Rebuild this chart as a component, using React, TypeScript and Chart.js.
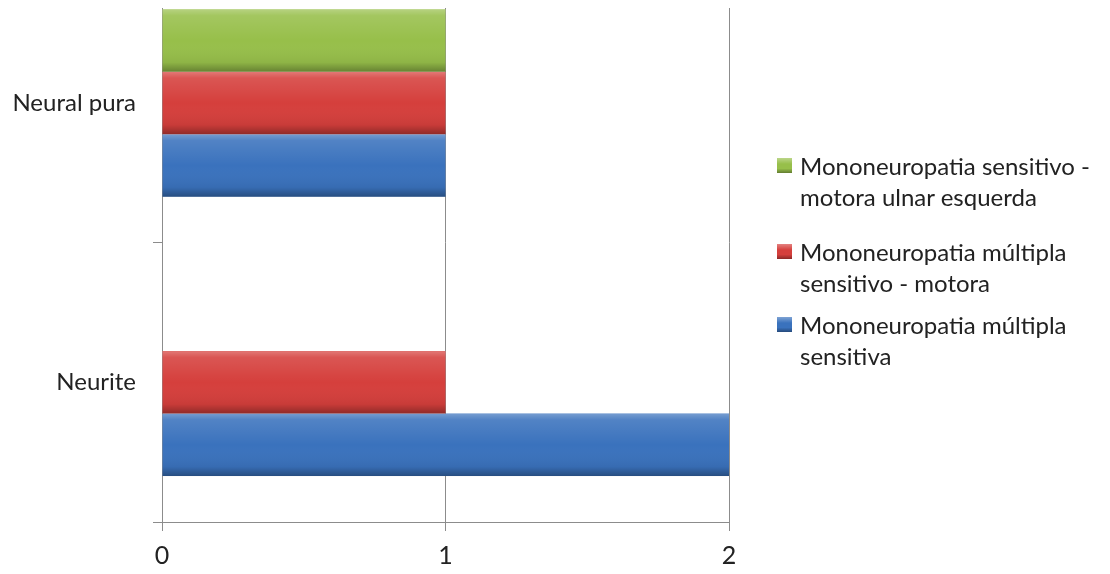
import React, { useEffect, useRef } from "react";
import { Chart, registerables } from "chart.js";

Chart.register(...registerables);

const categories = ["Neural pura", "Neurite"];
const seriesNames = [
  "Mononeuropatia sensitivo - motora ulnar esquerda",
  "Mononeuropatia múltipla sensitivo - motora",
  "Mononeuropatia múltipla sensitiva",
];
const legendLines = [
  ["Mononeuropatia sensitivo -", "motora ulnar esquerda"],
  ["Mononeuropatia múltipla", "sensitivo - motora"],
  ["Mononeuropatia múltipla", "sensitiva"],
];
const greenValues = [1, 0];
const redValues = [1, 1];
const blueValues = [1, 2];
const xTicks = [0, 1, 2];

const seriesColors = ["#97bf4a", "#d53f3c", "#3a72bd"];
const FONT = "Lato, 'Open Sans', sans-serif";

const bevelPlugin = {
  id: "bevel",
  afterDatasetsDraw(chart: any) {
    const ctx = chart.ctx;
    const area = chart.chartArea;
    ctx.save();
    ctx.beginPath();
    ctx.rect(area.left, area.top, area.right - area.left, area.bottom - area.top);
    ctx.clip();
    chart.data.datasets.forEach((_: any, di: number) => {
      const meta = chart.getDatasetMeta(di);
      meta.data.forEach((el: any) => {
        const { x, y, base, height } = el.getProps(["x", "y", "base", "height"], true);
        if (Math.abs(x - base) < 0.5) return;
        const top = y - height / 2;
        const g = ctx.createLinearGradient(0, top, 0, top + height);
        g.addColorStop(0, "rgba(255,255,255,0.30)");
        g.addColorStop(0.1, "rgba(255,255,255,0.12)");
        g.addColorStop(0.5, "rgba(255,255,255,0)");
        g.addColorStop(0.85, "rgba(0,0,0,0.06)");
        g.addColorStop(1, "rgba(0,0,0,0.32)");
        ctx.fillStyle = g;
        ctx.fillRect(base, top, x - base, height);
      });
    });
    ctx.restore();
  },
};

export default function App() {
  const ref = useRef<HTMLCanvasElement>(null);

  useEffect(() => {
    if (!ref.current) return;
    const chart = new Chart(ref.current, {
      type: "bar",
      data: {
        labels: categories,
        datasets: [
          { label: seriesNames[0], data: greenValues, backgroundColor: seriesColors[0] },
          { label: seriesNames[1], data: redValues, backgroundColor: seriesColors[1] },
          { label: seriesNames[2], data: blueValues, backgroundColor: seriesColors[2] },
        ],
      },
      options: {
        indexAxis: "y",
        responsive: false,
        animation: false,
        layout: { padding: { left: 0, right: 381, top: 0, bottom: 0 } },
        datasets: {
          bar: { categoryPercentage: 0.671, barPercentage: 1, borderWidth: 0 },
        },
        plugins: { legend: { display: false }, tooltip: { enabled: false } },
        scales: {
          x: {
            type: "linear",
            min: 0,
            max: 2,
            afterBuildTicks: (s: any) => {
              s.ticks = xTicks.map((v) => ({ value: v }));
            },
            afterFit: (s: any) => {
              s.height = 52;
            },
            grid: { color: "#8c8c8c", tickLength: 9, drawOnChartArea: true },
            border: { color: "#8c8c8c" },
            ticks: { color: "#222", font: { family: FONT, size: 25 }, padding: 10 },
          },
          y: {
            type: "category",
            afterFit: (s: any) => {
              s.width = 162;
            },
            grid: { color: "#8c8c8c", tickLength: 9, drawOnChartArea: false, offset: true },
            border: { color: "#8c8c8c" },
            ticks: { color: "#222", font: { family: FONT, size: 24 }, padding: 17 },
          },
        },
      },
      plugins: [bevelPlugin],
    } as any);
    return () => chart.destroy();
  }, []);

  const legendCenters = [166, 252, 325];

  return (
    <div
      style={{
        position: "fixed",
        left: 0,
        top: 8,
        width: 1110,
        height: 566,
        overflow: "hidden",
        background: "#fff",
      }}
    >
      <canvas
        ref={ref}
        width={1110}
        height={642}
        style={{ position: "absolute", left: 0, top: -76, width: 1110, height: 642 }}
      />
      {legendLines.map((lines, i) => (
        <div
          key={i}
          style={{
            position: "absolute",
            left: 777,
            top: legendCenters[i] - 8 - 16,
            fontFamily: FONT,
            fontSize: 24,
            lineHeight: "31px",
            color: "#222",
            whiteSpace: "nowrap",
          }}
        >
          <span
            style={{
              position: "absolute",
              left: 0,
              top: 8,
              width: 15,
              height: 15,
              background: `linear-gradient(to bottom, rgba(255,255,255,0.35), ${seriesColors[i]} 40%, ${seriesColors[i]} 70%, rgba(0,0,0,0.35))`,
              backgroundColor: seriesColors[i],
            }}
          />
          <div style={{ marginLeft: 23 }}>
            {lines.map((t, j) => (
              <div key={j}>{t}</div>
            ))}
          </div>
        </div>
      ))}
    </div>
  );
}
